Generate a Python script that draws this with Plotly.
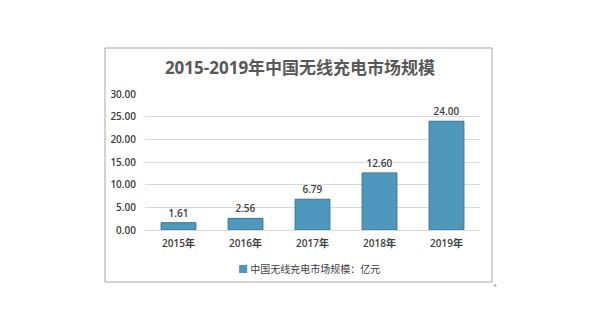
import plotly.graph_objects as go

years = ["2015年", "2016年", "2017年", "2018年", "2019年"]
values = [1.61, 2.56, 6.79, 12.60, 24.00]
series_name = "中国无线充电市场规模：亿元"
title_text = "2015-2019年中国无线充电市场规模"

font_main = "Open Sans, Noto Sans CJK SC, sans-serif"
bar_color = "#4E98BD"

fig = go.Figure()
fig.add_trace(go.Bar(
    x=years, y=values, name=series_name,
    marker=dict(color=bar_color, line=dict(color="#3A7590", width=1)),
    width=0.52,
    text=[f"{v:.2f}" for v in values], textposition="outside",
    textfont=dict(size=10, color="#404040", family=font_main, weight=600),
    cliponaxis=False, showlegend=False,
))

L, R, T, B = 145, 480, 94, 230
W, H = 600, 330
pw, ph = R - L, B - T

def px(x):
    return (x - L) / pw

def py(y):
    return (B - y) / ph

fig.update_layout(
    width=W, height=H,
    margin=dict(l=L, r=W - R, t=T, b=H - B, pad=0),
    paper_bgcolor="white", plot_bgcolor="white",
    showlegend=False,
    title=dict(text=f"<b>{title_text}</b>", x=px(300), xref="paper",
               y=1 - 68 / H, yref="container", xanchor="center", yanchor="middle",
               font=dict(size=17, color="#595959", family=font_main)),
    font=dict(family=font_main),
    shapes=[dict(type="rect", xref="paper", yref="paper",
                 x0=px(105), x1=px(492), y0=py(282), y1=py(48),
                 line=dict(color="#A6A6A6", width=1), fillcolor="rgba(0,0,0,0)", layer="below")],
    annotations=[
        dict(xref="paper", yref="paper", x=px(236), y=py(268), xanchor="left", yanchor="middle",
             showarrow=False,
             text=f"<span style='color:{bar_color}'>■</span> {series_name}",
             font=dict(size=10, color="#404040", family="Noto Sans CJK SC")),
        dict(xref="paper", yref="paper", x=px(495), y=py(285), xanchor="center", yanchor="middle",
             showarrow=False, text="+", font=dict(size=7, color="#808080")),
    ],
)
fig.update_yaxes(range=[0, 30], dtick=5, tickformat=".2f", showgrid=True,
                 gridcolor="#D9D9D9", gridwidth=1, zeroline=False, showline=False,
                 ticks="", ticklabelstandoff=8,
                 tickfont=dict(size=10, color="#404040", family=font_main, weight=600))
fig.update_xaxes(showline=True, linecolor="#D9D9D9", ticks="", showgrid=False,
                 ticklabelstandoff=4,
                 tickfont=dict(size=10, color="#404040", family=font_main, weight=600))

fig.write_html("out.html")
